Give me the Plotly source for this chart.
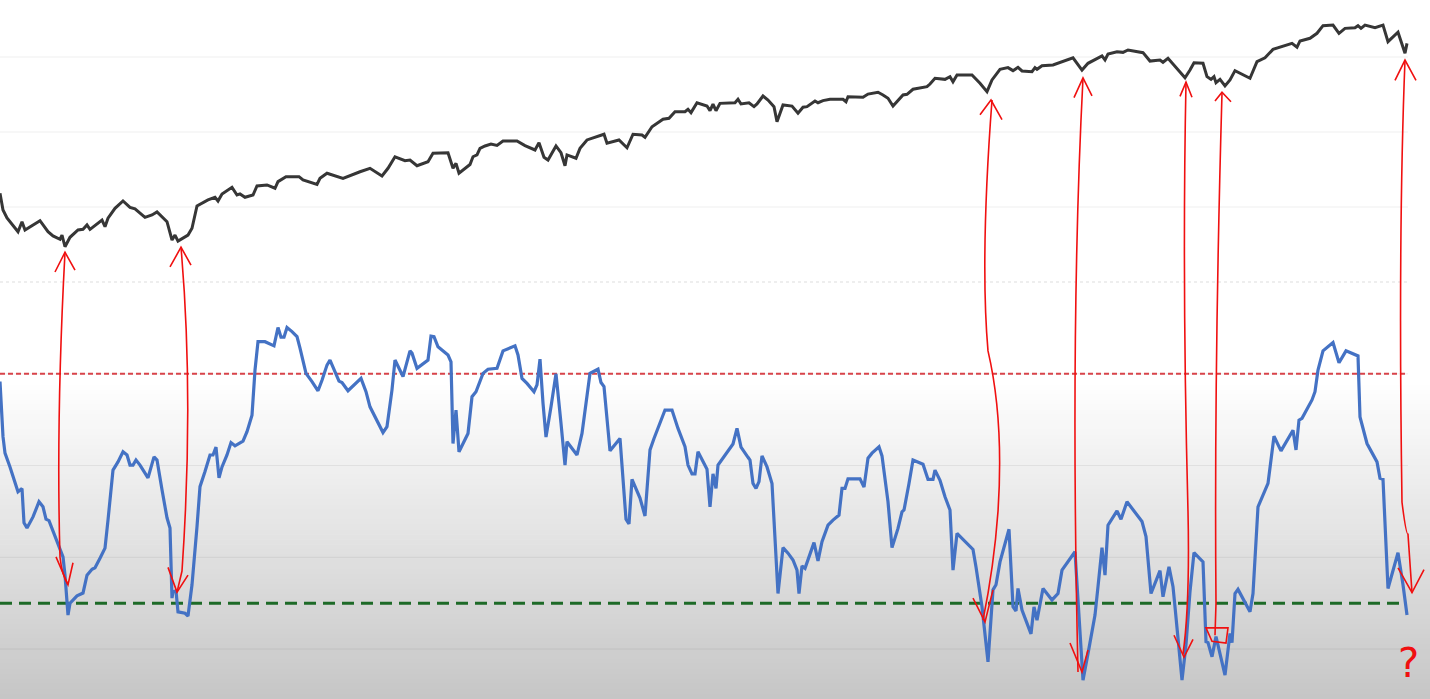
import plotly.graph_objects as go

# ---------------- data ----------------
# Index (upper panel) : trading-day index and level
index_day = [0, 3, 7, 18, 22, 25, 40, 48, 53, 60, 62, 65, 70, 78, 83, 87, 90, 102, 105, 108, 115, 123,
             130, 135, 145, 152, 157, 167, 172, 175, 178, 188, 192, 197, 208, 215, 218, 222, 232, 237,
             240, 245, 253, 257, 267, 275, 278, 286, 299, 303, 317, 320, 327, 343, 360, 370, 382, 388,
             395, 405, 410, 417, 428, 433, 448, 453, 456, 459, 470, 473, 477, 480, 485, 491, 497, 503,
             517, 525, 535, 539, 544, 548, 556, 561, 565, 567, 576, 580, 587, 598, 604, 607, 619, 627,
             633, 642, 645, 652, 663, 669, 675, 685, 688, 691, 697, 707, 710, 713, 716, 720, 735, 738,
             741, 749, 754, 757, 763, 768, 774, 777, 783, 792, 798, 803, 807, 815, 818, 823, 830, 843,
             846, 848, 863, 868, 878, 883, 888, 893, 898, 903, 907, 913, 927, 930, 935, 945, 950, 953,
             957, 972, 980, 987, 992, 1000, 1008, 1013, 1018, 1022, 1032, 1035, 1037, 1042, 1053, 1062,
             1073, 1082, 1088, 1102, 1105, 1108, 1117, 1123, 1128, 1143, 1150, 1160, 1163, 1168, 1177,
             1185, 1190, 1194, 1203, 1207, 1211, 1214, 1216, 1220, 1225, 1230, 1235, 1250, 1257, 1265,
             1273, 1280, 1292, 1297, 1300, 1310, 1317, 1323, 1333, 1339, 1345, 1355, 1358, 1361, 1365,
             1375, 1383, 1388, 1398, 1405, 1407]
index_level = [3591, 3480, 3427, 3335, 3402, 3347, 3409, 3335, 3307, 3285, 3313, 3235, 3298, 3347, 3351,
               3380, 3351, 3413, 3369, 3425, 3491, 3540, 3498, 3487, 3431, 3447, 3467, 3402, 3280, 3313,
               3273, 3313, 3358, 3507, 3547, 3565, 3540, 3587, 3631, 3580, 3587, 3565, 3580, 3640, 3647,
               3625, 3669, 3702, 3702, 3680, 3651, 3691, 3725, 3691, 3735, 3758, 3707, 3758, 3835, 3809,
               3813, 3775, 3802, 3858, 3862, 3758, 3791, 3725, 3783, 3835, 3847, 3891, 3907, 3920, 3911,
               3940, 3940, 3909, 3880, 3929, 3831, 3813, 3907, 3862, 3775, 3847, 3825, 3891, 3947, 3973,
               3985, 3925, 3947, 3895, 3985, 3980, 3965, 4035, 4085, 4091, 4135, 4135, 4151, 4129, 4195,
               4173, 4142, 4185, 4142, 4191, 4195, 4218, 4187, 4195, 4169, 4187, 4240, 4213, 4169, 4069,
               4180, 4173, 4125, 4165, 4169, 4207, 4195, 4209, 4218, 4218, 4202, 4235, 4231, 4253, 4265,
               4247, 4225, 4173, 4213, 4247, 4251, 4285, 4302, 4320, 4358, 4351, 4369, 4335, 4380, 4380,
               4325, 4269, 4347, 4418, 4429, 4409, 4431, 4407, 4402, 4429, 4418, 4442, 4447, 4469, 4495,
               4413, 4458, 4507, 4480, 4520, 4535, 4531, 4547, 4529, 4473, 4480, 4465, 4491, 4425, 4362,
               4413, 4462, 4458, 4369, 4351, 4369, 4329, 4351, 4307, 4347, 4409, 4358, 4469, 4495, 4551,
               4565, 4591, 4565, 4607, 4625, 4658, 4709, 4713, 4658, 4691, 4695, 4709, 4691, 4713, 4695,
               4713, 4602, 4665, 4525, 4591]

# Oscillator (lower panel) : trading-day index and value
osc_day = [0, 3, 5, 10, 18, 22, 24, 27, 33, 39, 43, 46, 49, 55, 60, 63, 65, 68, 70, 73, 77, 83, 87, 92,
           95, 100, 105, 108, 113, 118, 123, 127, 130, 133, 136, 140, 148, 154, 157, 162, 167, 170, 172,
           173, 176, 178, 185, 188, 192, 197, 200, 205, 210, 213, 216, 219, 222, 227, 231, 235, 241, 243,
           247, 252, 255, 258, 265, 274, 278, 281, 284, 287, 292, 297, 300, 306, 312, 318, 322, 327, 330,
           335, 339, 342, 348, 361, 366, 370, 383, 387, 392, 395, 403, 410, 412, 417, 428, 431, 434, 438,
           448, 451, 453, 456, 459, 468, 472, 476, 483, 488, 497, 503, 515, 518, 522, 527, 534, 537, 540,
           543, 546, 551, 556, 561, 565, 567, 577, 582, 587, 590, 598, 601, 604, 610, 620, 626, 629, 632,
           640, 645, 650, 654, 665, 672, 678, 685, 688, 692, 695, 698, 707, 710, 713, 716, 718, 727, 733,
           737, 741, 748, 750, 753, 756, 759, 762, 767, 772, 778, 783, 788, 793, 797, 799, 802, 805, 814,
           818, 822, 828, 833, 839, 842, 845, 848, 860, 864, 868, 872, 879, 882, 885, 888, 892, 898, 902,
           904, 909, 913, 923, 928, 933, 935, 940, 945, 950, 953, 957, 970, 973, 976, 982, 988, 993, 996,
           1000, 1009, 1013, 1016, 1018, 1022, 1031, 1034, 1037, 1043, 1052, 1058, 1062, 1075, 1078, 1083,
           1089, 1095, 1098, 1102, 1105, 1108, 1117, 1121, 1127, 1142, 1146, 1151, 1160, 1163, 1169, 1173,
           1175, 1182, 1186, 1190, 1194, 1203, 1206, 1208, 1212, 1216, 1225, 1230, 1232, 1235, 1238, 1250,
           1253, 1258, 1268, 1274, 1281, 1293, 1296, 1299, 1302, 1312, 1315, 1318, 1323, 1333, 1339, 1346,
           1358, 1360, 1367, 1377, 1380, 1383, 1388, 1398, 1403, 1407]
osc_value = [78.3, 66.3, 62.7, 59.7, 54.3, 55.0, 47.5, 46.4, 48.8, 52.1, 51.0, 48.3, 48.0, 44.5, 41.6,
             40.1, 36.1, 27.4, 30.0, 30.7, 31.6, 32.2, 36.1, 37.4, 37.7, 39.8, 42.0, 48.1, 59.0, 60.8,
             63.0, 62.3, 60.1, 60.1, 61.2, 60.1, 57.3, 61.9, 61.2, 54.7, 48.6, 46.4, 31.1, 32.5, 32.7,
             28.1, 27.8, 27.2, 34.0, 46.7, 55.4, 58.7, 62.3, 62.3, 64.0, 57.3, 59.7, 62.3, 65.0, 64.3,
             65.2, 65.3, 67.4, 71.0, 80.8, 87.0, 87.0, 86.1, 90.1, 88.0, 88.0, 90.1, 89.2, 88.1, 85.6,
             80.1, 78.3, 76.3, 78.6, 81.9, 83.0, 80.5, 78.4, 78.1, 76.3, 79.0, 76.1, 72.8, 67.2, 68.5,
             76.5, 83.0, 79.4, 85.0, 84.5, 81.2, 83.0, 88.2, 88.1, 85.9, 84.1, 82.6, 64.8, 72.1, 63.0,
             67.0, 75.0, 76.1, 80.1, 81.0, 81.2, 85.0, 86.1, 84.1, 79.0, 77.9, 76.1, 77.6, 83.2, 73.6,
             66.2, 72.8, 80.0, 69.2, 60.1, 65.2, 62.3, 67.0, 75.9, 80.1, 81.0, 78.1, 77.2, 63.2, 65.9,
             48.3, 47.3, 57.0, 52.9, 49.0, 63.4, 65.9, 72.1, 72.1, 68.1, 64.1, 60.1, 58.2, 58.2, 63.0,
             59.2, 51.0, 58.2, 55.0, 60.1, 62.7, 64.7, 68.1, 64.0, 61.8, 61.2, 56.1, 55.0, 56.5, 62.1,
             59.7, 56.1, 32.1, 42.1, 40.9, 39.4, 37.2, 32.1, 38.1, 37.6, 43.2, 39.2, 43.4, 47.0, 48.1,
             49.2, 55.0, 55.0, 57.1, 57.1, 55.3, 61.6, 62.7, 64.1, 62.1, 56.8, 52.1, 42.1, 46.3, 49.9,
             50.3, 56.1, 61.2, 60.3, 57.0, 57.0, 59.0, 56.8, 53.2, 50.3, 37.2, 45.2, 42.2, 41.7, 37.9,
             29.2, 17.2, 32.9, 34.0, 39.0, 46.1, 29.2, 28.3, 33.2, 28.5, 23.3, 29.2, 26.3, 33.2, 30.7,
             32.1, 37.2, 41.2, 30.0, 13.2, 20.2, 27.4, 33.6, 42.1, 36.1, 47.0, 50.1, 48.3, 52.1, 47.8,
             44.5, 32.1, 37.1, 31.4, 37.9, 33.6, 29.2, 13.2, 20.9, 32.5, 41.0, 39.0, 21.6, 21.4, 18.3,
             22.7, 14.3, 23.4, 21.4, 32.1, 33.0, 28.1, 32.1, 51.0, 56.1, 66.4, 63.2, 67.7, 63.4, 69.9,
             70.3, 74.3, 76.1, 80.8, 85.0, 86.8, 82.4, 85.0, 83.9, 70.6, 64.8, 60.8, 57.2, 57.0, 33.2,
             41.0, 34.0, 27.4]

overbought = 80
oversold = 30
osc_grid = [20, 40, 60, 80]
index_grid = [3500, 4000, 4500]

# ---------------- figure ----------------
W, H = 1430, 699
X_END = 1408          # right end of the chart's grid / reference lines (day units)
fig = go.Figure()

fig.add_trace(go.Scatter(x=osc_day, y=osc_value, mode="lines", yaxis="y",
                         line=dict(color="#4472c4", width=3.2), hoverinfo="skip"))
fig.add_trace(go.Scatter(x=index_day, y=index_level, mode="lines", yaxis="y2",
                         line=dict(color="#363636", width=3), hoverinfo="skip"))

shapes = []
# gradient background (lower part of the chart)
g_top, g_bot, n_bands = 380, H, 64
for i in range(n_bands):
    p0 = g_top + (g_bot - g_top) * i / n_bands
    p1 = g_top + (g_bot - g_top) * (i + 1) / n_bands
    c = round(255 - (255 - 198) * (i + 0.5) / n_bands)
    shapes.append(dict(type="rect", xref="paper", yref="paper", x0=0, x1=1,
                       y0=1 - p1 / H - 0.0005, y1=1 - p0 / H + 0.0005,
                       fillcolor=f"rgb({c},{c},{c})", line=dict(width=0), layer="below"))

GRID = "rgba(0,0,0,0.065)"
for v in osc_grid:
    shapes.append(dict(type="line", xref="x", yref="y", x0=0, x1=X_END, y0=v, y1=v,
                       line=dict(color=GRID, width=1), layer="below"))
for v in index_grid:
    shapes.append(dict(type="line", xref="x", yref="y2", x0=0, x1=X_END, y0=v, y1=v,
                       line=dict(color=GRID, width=1), layer="below"))
# dotted separator gridline
shapes.append(dict(type="line", xref="x", yref="y", x0=0, x1=X_END, y0=100, y1=100,
                   line=dict(color="rgba(0,0,0,0.09)", width=1.5, dash="dot"), layer="below"))

# reference levels
shapes.append(dict(type="line", xref="x", yref="y", x0=0, x1=X_END, y0=overbought, y1=overbought,
                   line=dict(color="#d8434a", width=2, dash="5px,3px"), layer="between"))
shapes.append(dict(type="line", xref="x", yref="y", x0=0, x1=X_END - 3, y0=oversold, y1=oversold,
                   line=dict(color="#1d6a27", width=3, dash="12px,7px"), layer="between"))

# hand-drawn red arrows (overlay, in day / oscillator-axis units)
RED = "#f01010"
arrow_paths = [
    "M 65 106.5 Q 56 70 60 40 Q 62 36 68 34",
    "M 55 102.2 L 65 106.5 L 75 102.6",
    "M 56 40.1 L 68 34 L 73 38.8",
    "M 181 107.6 Q 194 75 182 37 L 177 32.4",
    "M 170 103.3 L 181 107.6 L 191 103.7",
    "M 168 37.8 L 177 32.4 L 188 36.1",
    "M 992 139.7 Q 980 105 988 85 Q 1004 70 998 50 Q 994 38 983 26.3",
    "M 980 136.5 L 991 139.7 L 1002 135.4",
    "M 973 31.1 L 985 25.9 L 993 32.9",
    "M 1083 144.5 Q 1070 90 1078 15",
    "M 1074 140.2 L 1083 144.5 L 1092 140.6",
    "M 1070 21.3 L 1082 15.0 L 1088 19.8",
    "M 1186 143.6 Q 1182 100 1188 50 Q 1190 30 1183 18.9",
    "M 1180 140.5 L 1186 143.6 L 1192 140.3",
    "M 1174 23.0 L 1184 18.2 L 1193 22.1",
    "M 1222 141.2 Q 1214 80 1216 30 L 1215 23",
    "M 1215 139.5 L 1222 141.4 L 1231 139.3",
    "M 1206 24.6 L 1228 24.6 L 1226 21.3 L 1212 21.7 Z",
    "M 1405 148.4 Q 1398 110 1402 52 Q 1406 45 1408 45 L 1412 32.3",
    "M 1395 144.0 L 1405 148.4 L 1416 144.0",
    "M 1398 37.7 L 1412 32.3 L 1424 37.3",
]
for p in arrow_paths:
    shapes.append(dict(type="path", xref="x", yref="y", path=p,
                       line=dict(color=RED, width=1.6), layer="above"))

fig.update_layout(
    width=W, height=H,
    margin=dict(l=0, r=0, t=0, b=0, pad=0),
    paper_bgcolor="white", plot_bgcolor="rgba(0,0,0,0)",
    showlegend=False,
    shapes=shapes,
    xaxis=dict(range=[0, W], showgrid=False, zeroline=False, showticklabels=False,
               showline=False, ticks=""),
    yaxis=dict(range=[9.1, 161.5], showgrid=False, zeroline=False,
               showticklabels=False, ticks="", showline=False),
    yaxis2=dict(range=[220, 4880], overlaying="y", side="right", showgrid=False,
                zeroline=False, showticklabels=False, ticks="", showline=False),
    annotations=[dict(x=1408, y=17.0, xref="x", yref="y", text="?", showarrow=False,
                      font=dict(family="DejaVu Sans", size=40, color=RED))],
)

fig.write_html("out.html", config={"displayModeBar": False},
               post_script="document.body.style.margin='0px';document.body.style.overflow='hidden';")
